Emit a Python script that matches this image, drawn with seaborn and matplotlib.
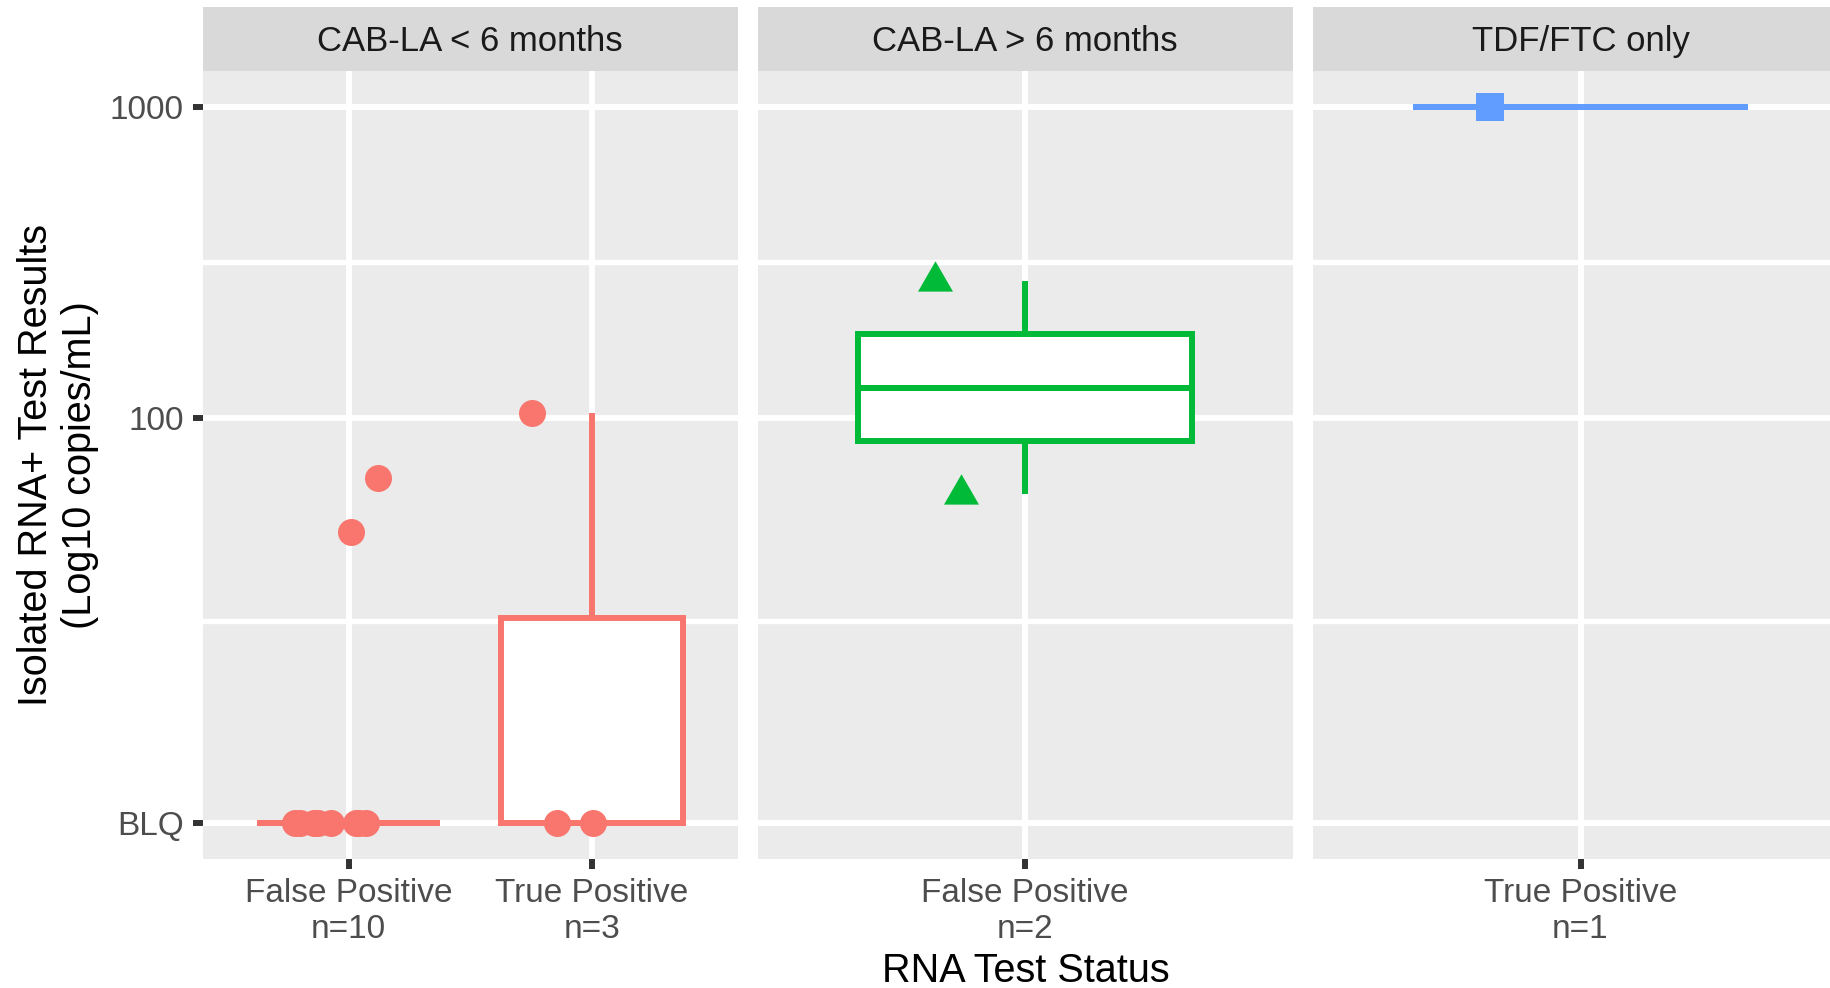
import numpy as np
import pandas as pd
import matplotlib
matplotlib.use("Agg")
import matplotlib.pyplot as plt
from matplotlib.path import Path
from matplotlib.ticker import FixedLocator
import seaborn as sns

# ---------------- data ----------------
facets = ["CAB-LA < 6 months", "CAB-LA > 6 months", "TDF/FTC only"]
facet_colors = ["#F8766D", "#00BA38", "#619CFF"]
status_levels = [["False Positive", "True Positive"], ["False Positive"], ["True Positive"]]
n_labels = [["n=10", "n=3"], ["n=2"], ["n=1"]]

BLQ = 5  # below limit of quantification plotted at 5 copies/mL

obs_facet = [0] * 13 + [1] * 2 + [2]
obs_status = (["False Positive"] * 10 + ["True Positive"] * 3
              + ["False Positive"] * 2 + ["True Positive"])
obs_value = [BLQ] * 8 + [43, 64] + [BLQ, BLQ, 104] + [275, 57] + [1000]
obs_jitter = [-0.219, -0.198, -0.142, -0.126, -0.073, 0.030, 0.044, 0.072,
              0.011, 0.122, -0.144, 0.005, -0.245, -0.203, -0.143, -0.204]

y_breaks = [BLQ, 100, 1000]
y_labels = ["BLQ", "100", "1000"]

df = pd.DataFrame({"facet": obs_facet, "status": obs_status,
                   "value": obs_value, "jitter": obs_jitter})
df["logv"] = np.log10(df["value"])

# ---------------- style ----------------
plt.rcParams["font.family"] = ["Liberation Sans", "DejaVu Sans"]

W, H = 1830, 988
fig = plt.figure(figsize=(W / 100, H / 100), dpi=100)

tri = Path([(0, 0.577), (-0.5, -0.289), (0.5, -0.289), (0, 0.577)],
           [Path.MOVETO, Path.LINETO, Path.LINETO, Path.CLOSEPOLY])
markers = ["o", tri, "s"]
sizes = [378, 847, 378]

lefts = [202.7, 757.7, 1313.0]
pw = 535.0
p_top, p_bot = 70.7, 859.0
s_top = 7.3

log_breaks = np.log10(y_breaks)
minor = [(log_breaks[0] + log_breaks[1]) / 2, (log_breaks[1] + log_breaks[2]) / 2]
rng = log_breaks[-1] - log_breaks[0]
ylim = (log_breaks[0] - 0.05 * rng, log_breaks[-1] + 0.05 * rng)

LW = 4.3
tick_fs = 24
for i, facet in enumerate(facets):
    ax = fig.add_axes([lefts[i] / W, 1 - p_bot / H, pw / W, (p_bot - p_top) / H])
    ax.set_facecolor("#EBEBEB")
    sub = df[df["facet"] == i].copy()
    order = status_levels[i]
    c = facet_colors[i]
    sns.boxplot(data=sub, x="status", y="logv", order=order, ax=ax,
                color="white", linecolor=c, linewidth=LW, width=0.75,
                showfliers=False, showcaps=False, saturation=1, zorder=2)
    sub["xpos"] = [order.index(s) + j for s, j in zip(sub["status"], sub["jitter"])]
    sns.scatterplot(data=sub, x="xpos", y="logv", ax=ax, color=c,
                    marker=markers[i], s=sizes[i], linewidth=0, zorder=3,
                    legend=False)
    ax.set_xlim(-0.6, len(order) - 0.4)
    ax.set_ylim(*ylim)
    ax.set_xticks(range(len(order)))
    ax.set_xticklabels([f"{s}\n{n}" for s, n in zip(order, n_labels[i])],
                       linespacing=1.2)
    ax.set_yticks(log_breaks)
    ax.yaxis.set_minor_locator(FixedLocator(minor))
    ax.set_axisbelow(True)
    ax.grid(which="major", color="white", linewidth=LW)
    ax.grid(which="minor", axis="y", color="white", linewidth=LW * 0.9)
    for sp in ax.spines.values():
        sp.set_visible(False)
    ax.set_xlabel("")
    ax.set_ylabel("")
    ax.tick_params(axis="both", which="major", length=7.2, width=LW,
                   color="#333333", labelsize=tick_fs, labelcolor="#4D4D4D",
                   pad=6.5)
    ax.tick_params(axis="x", which="major", pad=6.5)
    ax.tick_params(axis="y", which="minor", length=0)
    if i == 0:
        ax.set_yticklabels(y_labels)
    else:
        ax.set_yticklabels([])
        ax.tick_params(axis="y", which="major", length=0)
    # strip
    sax = fig.add_axes([lefts[i] / W, 1 - p_top / H, pw / W, (p_top - s_top) / H])
    sax.set_facecolor("#D9D9D9")
    sax.set_xticks([])
    sax.set_yticks([])
    for sp in sax.spines.values():
        sp.set_visible(False)
    sax.text(0.5, 0.52, facet, ha="center", va="center_baseline",
             fontsize=25, color="#1A1A1A", transform=sax.transAxes)

fig.text(1025.5 / W, 1 - 971 / H, "RNA Test Status", ha="center", va="center",
         fontsize=28.5, color="black")
fig.text(58.5 / W, 1 - 465 / H, "Isolated RNA+ Test Results\n(Log10 copies/mL)",
         ha="center", va="center", rotation=90, fontsize=28.5, color="black",
         linespacing=1.2, multialignment="center")

fig.savefig("out.png", dpi=100)
